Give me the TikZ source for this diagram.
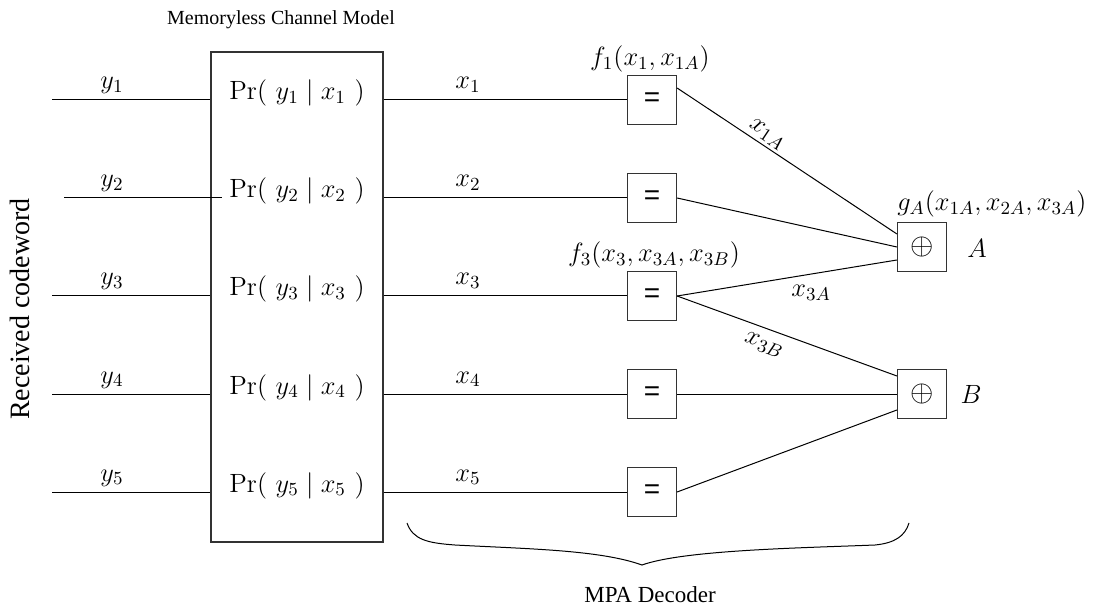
\documentclass[tikz,border=0pt]{standalone}
\usepackage{fix-cm}
\usepackage{fontspec}
\usetikzlibrary{calc}
\newfontfamily\labelfont{Liberation Serif}
\newfontfamily\gatefont{Liberation Sans}
\begin{document}
\begin{tikzpicture}[x=0.5pt, y=-0.5pt,
  every node/.style={inner sep=0pt},
  mth/.style={font=\fontsize{13.2}{16}\selectfont},
  wire/.style={line width=0.5pt},
  frame/.style={draw=black!80, line width=0.6pt},
  gate/.style={frame, minimum size=24.5pt, inner sep=0pt},
  eqgate/.style={gate, font={\gatefont\fontsize{14}{16}\selectfont}},
  sumgate/.style={gate, font=\fontsize{15}{17}\selectfont},
  caption/.style={font={\labelfont\fontsize{#1}{#1}\selectfont}}]
\useasboundingbox (0,0) rectangle (1103,609);

% channel model block
\node[frame, minimum width=86pt, minimum height=245pt] (ch) at (297,297) {};
\node[caption=10, anchor=base] (title) at (281,25) {Memoryless Channel Model};
\node[caption=14, rotate=90] (rx) at (20,309) {Received codeword};

% per-symbol likelihoods
\foreach \i/\r in {1/100,2/198,3/296,4/394,5/492}{
  \node[mth, anchor=base] (p\i) at (297,\r) {$\Pr(\ y_\i \mid x_\i\ )$};
  \node[mth, anchor=base] (ly\i) at (112,\r-11) {$y_\i$};
  \node[mth, anchor=base] (lx\i) at (468,\r-11) {$x_\i$};
  \node[eqgate] (f\i) at (652,\r) {=};
  \draw[wire] (ch.east |- f\i) -- (f\i.west);
}

% received symbols entering the channel block
\coordinate (in1) at (52,100);
\coordinate (in2) at (64,198);
\coordinate (in3) at (52,296);
\coordinate (in4) at (52,394);
\coordinate (in5) at (52,492);
\draw[wire] (in1) -- (in1 -| ch.west);
\draw[wire] (in2) -- ($(in2 -| ch.west)+(12,0)$);
\draw[wire] (in3) -- (in3 -| ch.west);
\draw[wire] (in4) -- (in4 -| ch.west);
\draw[wire] (in5) -- (in5 -| ch.west);

% parity checks
\node[sumgate] (A) at (922,247) {$\oplus$};
\node[sumgate] (B) at (922,394) {$\oplus$};
\node[mth] (lA) at (977,248) {$A$};
\node[mth] (lB) at (971,394) {$B$};

% function labels
\node[mth, anchor=base] (fl1) at ($(f1.north)+(-2,-9)$) {$f_1(x_1, x_{1A})$};
\node[mth, anchor=base] (fl3) at ($(f3.north)+(2,-9)$) {$f_3(x_3, x_{3A}, x_{3B})$};
\node[mth, anchor=base west] (gl) at ($(A.north west)+(0,-11)$) {$g_A(x_{1A}, x_{2A}, x_{3A})$};

% edges of the factor graph
\draw[wire] ($(f1.east)+(0,-12)$) -- node[mth, sloped, above, pos=0.38, inner sep=1.5pt] {$x_{1A}$} ($(A.west)+(0,-13)$);
\draw[wire] (f2.east) -- (A.west);
\draw[wire] (f3.east) -- node[mth, pos=0.61, anchor=north, yshift=-5.5pt] {$x_{3A}$} ($(A.west)+(0,13)$);
\draw[wire] (f3.east) -- node[mth, sloped, below, pos=0.42, inner sep=4pt] {$x_{3B}$} ($(B.west)+(0,-18)$);
\draw[wire] (f4.east) -- (B.west);
\draw[wire] (f5.east) -- ($(B.west)+(0,16)$);

% decoder brace
\draw[wire] (407,523) .. controls (413,540) and (428,543) .. (455,545)
  .. controls (530,549) and (600,550) .. (642,565)
  .. controls (684,550) and (800,548) .. (875,545)
  .. controls (895,543) and (905,536) .. (909,523);
\node[caption=11.5, anchor=base] (dec) at (650,602) {MPA Decoder};
\end{tikzpicture}
\end{document}
